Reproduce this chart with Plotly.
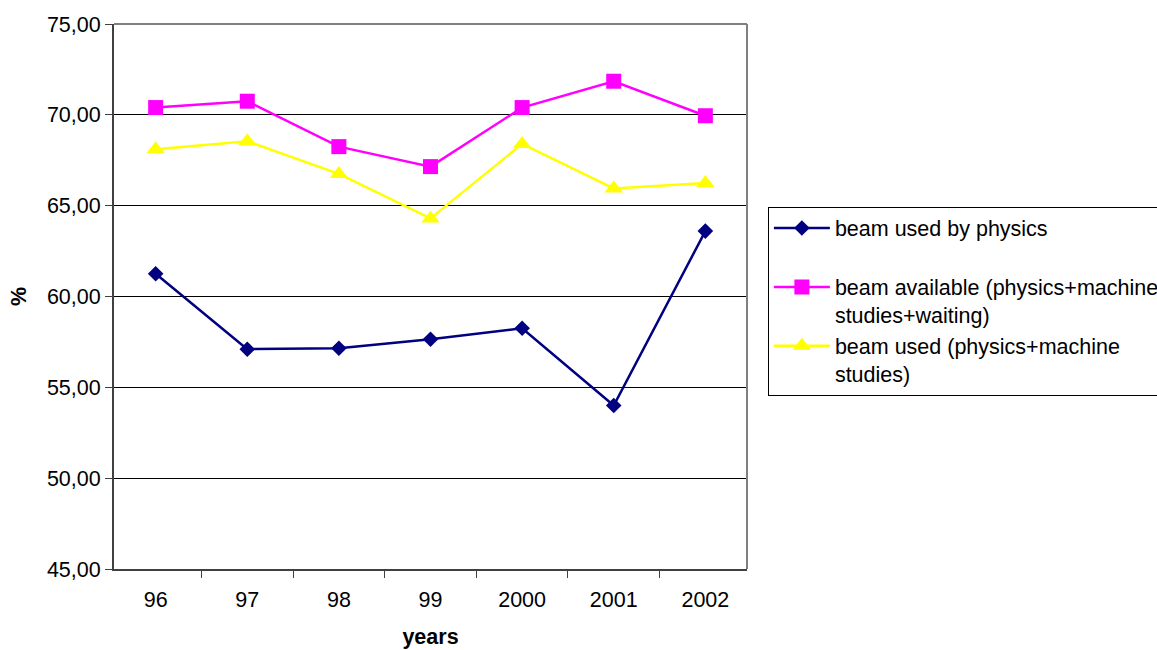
import plotly.graph_objects as go

years = ["96", "97", "98", "99", "2000", "2001", "2002"]
beam_physics = [61.25, 57.10, 57.15, 57.65, 58.25, 54.00, 63.60]
beam_available = [70.40, 70.75, 68.25, 67.15, 70.40, 71.85, 69.95]
beam_used = [68.10, 68.55, 66.75, 64.30, 68.40, 65.95, 66.25]

FONT = "Liberation Sans, Arial, sans-serif"
FS = 21.5

fig = go.Figure()
fig.add_trace(go.Scatter(
    x=years, y=beam_physics, mode="lines+markers",
    name="beam used by physics<br> ",
    line=dict(color="#000080", width=2.5),
    marker=dict(symbol="diamond", size=12, color="#000080"),
))
fig.add_trace(go.Scatter(
    x=years, y=beam_available, mode="lines+markers",
    name="beam available (physics+machine<br>studies+waiting)",
    line=dict(color="#FF00FF", width=2.5),
    marker=dict(symbol="square", size=15, color="#FF00FF"),
))
fig.add_trace(go.Scatter(
    x=years, y=beam_used, mode="lines+markers",
    name="beam used (physics+machine<br>studies)",
    line=dict(color="#FFFF00", width=2.5),
    marker=dict(symbol="triangle-up", size=16, color="#FFFF00"),
))

fig.update_layout(
    width=1157, height=650,
    margin=dict(l=114, r=410, t=24, b=81, autoexpand=False),
    paper_bgcolor="white", plot_bgcolor="white",
    separators=",.",
    font=dict(family=FONT, size=FS, color="black"),
    showlegend=True,
    legend=dict(
        x=1.033, y=0.665, xanchor="left", yanchor="top",
        bordercolor="black", borderwidth=1, bgcolor="white",
        font=dict(family=FONT, size=FS, color="black"),
        valign="top", tracegroupgap=0, itemwidth=56,
        traceorder="normal",
    ),
)

fig.update_xaxes(
    type="category", tickson="boundaries",
    ticks="outside", ticklen=7, tickcolor="#404040", tickwidth=1,
    showline=True, linecolor="#404040", linewidth=2,
    showgrid=False, zeroline=False,
    ticklabelstandoff=10,
    title=dict(text="years", font=dict(family=FONT, size=FS, weight="bold"), standoff=18),
)
fig.update_yaxes(
    range=[45, 75], dtick=5, tickformat=".2f",
    ticks="outside", ticklen=7, tickcolor="#404040", tickwidth=1,
    showline=True, linecolor="#404040", linewidth=2,
    showgrid=True, gridcolor="black", gridwidth=1,
    zeroline=False,
    title=dict(text="%", font=dict(family=FONT, size=FS, weight="bold"), standoff=14),
)

# grey frame along the top and right of the plot area
fig.add_shape(type="line", xref="paper", yref="paper", x0=0, x1=1, y0=1, y1=1,
              line=dict(color="#808080", width=2))
fig.add_shape(type="line", xref="paper", yref="paper", x0=1, x1=1, y0=0, y1=1,
              line=dict(color="#808080", width=2))

fig.write_html("out.html")
